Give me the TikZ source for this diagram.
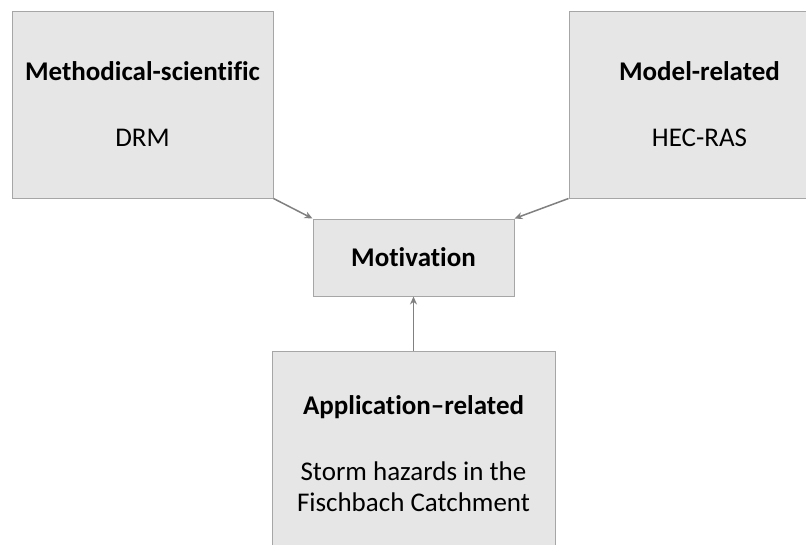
\documentclass[tikz,border=0pt]{standalone}
\usepackage{fontspec}
\setmainfont{Carlito}[Ligatures=NoCommon]
\usetikzlibrary{arrows.meta}

\definecolor{boxfill}{HTML}{E7E6E6}
\definecolor{boxline}{HTML}{A6A6A6}
\definecolor{arrowgray}{HTML}{808080}

\tikzset{
    block/.style={draw=boxline, fill=boxfill, line width=1pt, align=center,
        inner sep=0pt, font=\fontsize{27}{31}\selectfont},
    link/.style={draw=arrowgray, line width=1.5pt, -{Stealth[length=8pt, width=7pt]}}
}

\begin{document}
\begin{tikzpicture}[x=1pt, y=-1pt]
        \useasboundingbox (0,0) rectangle (806,544);

        \node[block, minimum width=261pt, minimum height=187pt] (method) at (142.5, 104.5)
            {\textbf{Methodical-scientific}\\[35pt]DRM};
        \node[block, minimum width=261pt, minimum height=187pt] (model) at (699.5, 104.5)
            {\textbf{Model-related}\\[35pt]HEC-RAS};
        \node[block, minimum width=201pt, minimum height=77pt] (motiv) at (413.5, 257.5)
            {\textbf{Motivation}};
        \node[block, minimum width=283pt, minimum height=206pt] (appl) at (413.5, 454)
            {\textbf{Application--related}\\[35pt]Storm hazards in the\\Fischbach Catchment};

        \draw[link] (method.south east) -- (motiv.north west);
        \draw[link] (model.south west) -- (motiv.north east);
        \draw[link] (appl.north) -- (motiv.south);
\end{tikzpicture}
\end{document}
